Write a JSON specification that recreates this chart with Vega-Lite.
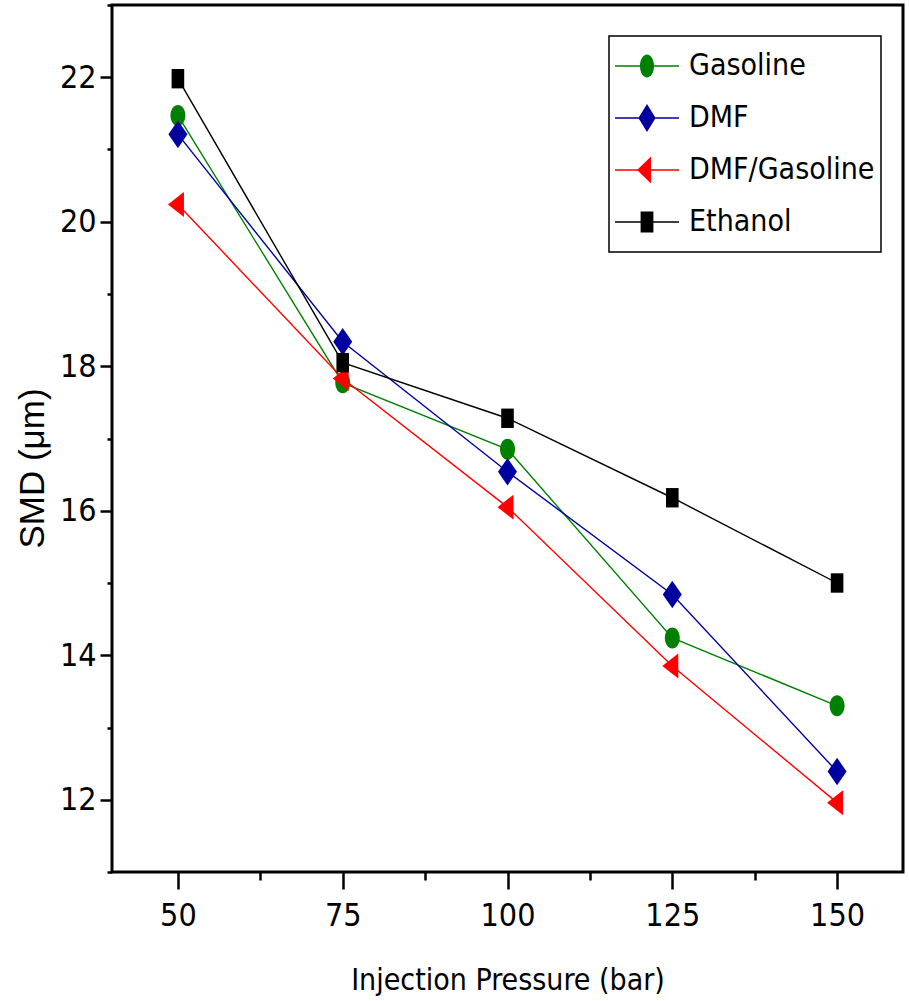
{
  "$schema": "https://vega.github.io/schema/vega-lite/v6.json",
  "width": 791,
  "height": 867,
  "autosize": "none",
  "padding": {"left": 112, "top": 5, "right": 6, "bottom": 129},
  "background": "white",
  "config": {
    "view": {"stroke": "black", "strokeWidth": 3},
    "axis": {"domain": false, "grid": false, "tickColor": "black", "labelColor": "black", "titleColor": "black"},
    "legend": {"symbolStrokeWidth": 0, "symbolOpacity": 1}
  },
  "data": {
    "values": [
      {"fuel": "Gasoline", "pressure": 50, "smd": 21.47},
      {"fuel": "Gasoline", "pressure": 75, "smd": 17.77},
      {"fuel": "Gasoline", "pressure": 100, "smd": 16.85},
      {"fuel": "Gasoline", "pressure": 125, "smd": 14.24},
      {"fuel": "Gasoline", "pressure": 150, "smd": 13.30},
      {"fuel": "DMF", "pressure": 50, "smd": 21.21},
      {"fuel": "DMF", "pressure": 75, "smd": 18.34},
      {"fuel": "DMF", "pressure": 100, "smd": 16.54},
      {"fuel": "DMF", "pressure": 125, "smd": 14.84},
      {"fuel": "DMF", "pressure": 150, "smd": 12.39},
      {"fuel": "DMF/Gasoline", "pressure": 50, "smd": 20.24},
      {"fuel": "DMF/Gasoline", "pressure": 75, "smd": 17.83},
      {"fuel": "DMF/Gasoline", "pressure": 100, "smd": 16.05},
      {"fuel": "DMF/Gasoline", "pressure": 125, "smd": 13.85},
      {"fuel": "DMF/Gasoline", "pressure": 150, "smd": 11.96},
      {"fuel": "Ethanol", "pressure": 50, "smd": 21.98},
      {"fuel": "Ethanol", "pressure": 75, "smd": 18.05},
      {"fuel": "Ethanol", "pressure": 100, "smd": 17.28},
      {"fuel": "Ethanol", "pressure": 125, "smd": 16.18},
      {"fuel": "Ethanol", "pressure": 150, "smd": 15.00}
    ]
  },
  "layer": [
    {
      "mark": {"type": "line", "strokeWidth": 1.4},
      "encoding": {
        "x": {
          "field": "pressure", "type": "quantitative",
          "scale": {"domain": [40, 160], "nice": false, "zero": false},
          "axis": {
            "orient": "bottom",
            "values": [50, 75, 100, 125, 150],
            "tickSize": 17, "tickWidth": 2.5,
            "labelFont": "Liberation Sans Narrow, DejaVu Sans Condensed, sans-serif",
            "labelFontSize": 32, "labelPadding": 11,
            "title": "Injection Pressure (bar)",
            "titleFont": "Liberation Sans Narrow, DejaVu Sans Condensed, sans-serif",
            "titleFontSize": 30, "titleFontWeight": "normal", "titlePadding": 34
          }
        },
        "y": {
          "field": "smd", "type": "quantitative",
          "scale": {"domain": [11, 23], "nice": false, "zero": false},
          "axis": {
            "orient": "left",
            "values": [12, 14, 16, 18, 20, 22],
            "tickSize": 12, "tickWidth": 2.5,
            "labelFont": "Liberation Sans Narrow, DejaVu Sans Condensed, sans-serif",
            "labelFontSize": 32, "labelPadding": 4,
            "title": "SMD  (μm)",
            "titleFont": "Liberation Sans, Arial, sans-serif",
            "titleFontSize": 35, "titleFontWeight": "normal", "titlePadding": 9,
            "titleY": 463
          }
        },
        "color": {
          "field": "fuel", "type": "nominal",
          "scale": {"domain": ["Gasoline", "DMF", "DMF/Gasoline", "Ethanol"], "range": ["#008000", "#0000A0", "#FF0000", "#000000"]},
          "legend": {
            "title": null,
            "orient": "none",
            "legendX": 497,
            "legendY": 31,
            "direction": "vertical",
            "padding": 6,
            "strokeColor": "black",
            "fillColor": "white",
            "clipHeight": 48,
            "rowPadding": 4,
            "symbolSize": 4096,
            "labelOffset": 10,
            "labelFont": "Liberation Sans Narrow, DejaVu Sans Condensed, sans-serif",
            "labelFontSize": 30,
            "labelColor": "black",
            "labelLimit": 400,
            "encode": {
              "legend": {"update": {"strokeWidth": {"value": 1.5}}},
              "symbols": {
                "update": {
                  "size": {"value": 4096},
                  "fill": {"signal": "scale('color', datum.value)"},
                  "fillOpacity": {"value": 1},
                  "opacity": {"value": 1},
                  "stroke": {"value": "transparent"},
                  "strokeWidth": {"value": 0}
                }
              }
            }
          }
        }
      }
    },
    {
      "mark": {"type": "point", "filled": true, "opacity": 1, "strokeWidth": 0},
      "transform": [{"filter": "datum.fuel === 'none'"}],
      "encoding": {
        "x": {"field": "pressure", "type": "quantitative", "axis": null},
        "y": {"field": "smd", "type": "quantitative", "axis": null},
        "color": {"field": "fuel", "type": "nominal"},
        "shape": {
          "field": "fuel", "type": "nominal",
          "scale": {
            "domain": ["Gasoline", "DMF", "DMF/Gasoline", "Ethanol"],
            "range": [
              "M -1,-0.022 L 1,-0.022 L 1,0.022 L -1,0.022 Z M -0.22,0 A 0.22,0.36 0 1,1 0.22,0 A 0.22,0.36 0 1,1 -0.22,0 Z",
              "M -1,-0.022 L 1,-0.022 L 1,0.022 L -1,0.022 Z M 0,-0.44 L 0.27,0 L 0,0.44 L -0.27,0 Z",
              "M -1,-0.022 L 1,-0.022 L 1,0.022 L -1,0.022 Z M -0.31,0 L 0.125,-0.42 L 0.125,0.42 Z",
              "M -1,-0.022 L 1,-0.022 L 1,0.022 L -1,0.022 Z M -0.2,-0.33 L 0.2,-0.33 L 0.2,0.33 L -0.2,0.33 Z"
            ]
          }
        }
      }
    },
    {
      "mark": {"type": "point", "filled": true, "opacity": 1, "size": 400, "strokeWidth": 0, "shape": "M -0.75,0 A 0.75,1.05 0 1,1 0.75,0 A 0.75,1.05 0 1,1 -0.75,0 Z"},
      "transform": [{"filter": "datum.fuel === 'Gasoline'"}],
      "encoding": {
        "x": {"field": "pressure", "type": "quantitative", "axis": null},
        "y": {"field": "smd", "type": "quantitative", "axis": null},
        "color": {"field": "fuel", "type": "nominal"}
      }
    },
    {
      "mark": {"type": "point", "filled": true, "opacity": 1, "size": 400, "strokeWidth": 0, "shape": "M 0,-1.38 L 0.95,0 L 0,1.38 L -0.95,0 Z"},
      "transform": [{"filter": "datum.fuel === 'DMF'"}],
      "encoding": {
        "x": {"field": "pressure", "type": "quantitative", "axis": null},
        "y": {"field": "smd", "type": "quantitative", "axis": null},
        "color": {"field": "fuel", "type": "nominal"}
      }
    },
    {
      "mark": {"type": "point", "filled": true, "opacity": 1, "size": 400, "strokeWidth": 0, "shape": "M -1.0,0 L 0.6,-1.25 L 0.6,1.25 Z"},
      "transform": [{"filter": "datum.fuel === 'DMF/Gasoline'"}],
      "encoding": {
        "x": {"field": "pressure", "type": "quantitative", "axis": null},
        "y": {"field": "smd", "type": "quantitative", "axis": null},
        "color": {"field": "fuel", "type": "nominal"}
      }
    },
    {
      "mark": {"type": "point", "filled": true, "opacity": 1, "size": 400, "strokeWidth": 0, "shape": "M -0.63,-0.97 L 0.63,-0.97 L 0.63,0.97 L -0.63,0.97 Z"},
      "transform": [{"filter": "datum.fuel === 'Ethanol'"}],
      "encoding": {
        "x": {"field": "pressure", "type": "quantitative", "axis": null},
        "y": {"field": "smd", "type": "quantitative", "axis": null},
        "color": {"field": "fuel", "type": "nominal"}
      }
    },
    {
      "mark": {"type": "rule", "opacity": 0},
      "encoding": {
        "x": {
          "field": "pressure", "type": "quantitative",
          "axis": {"orient": "bottom", "values": [62.5, 87.5, 112.5, 137.5], "tickSize": 8, "tickWidth": 2.5, "labels": false, "title": null}
        },
        "y": {
          "field": "smd", "type": "quantitative",
          "axis": {"orient": "left", "values": [11, 13, 15, 17, 19, 21, 23], "tickSize": 5, "tickWidth": 2.5, "labels": false, "title": null}
        }
      }
    }
  ],
  "resolve": {"axis": {"x": "independent", "y": "independent"}}
}
